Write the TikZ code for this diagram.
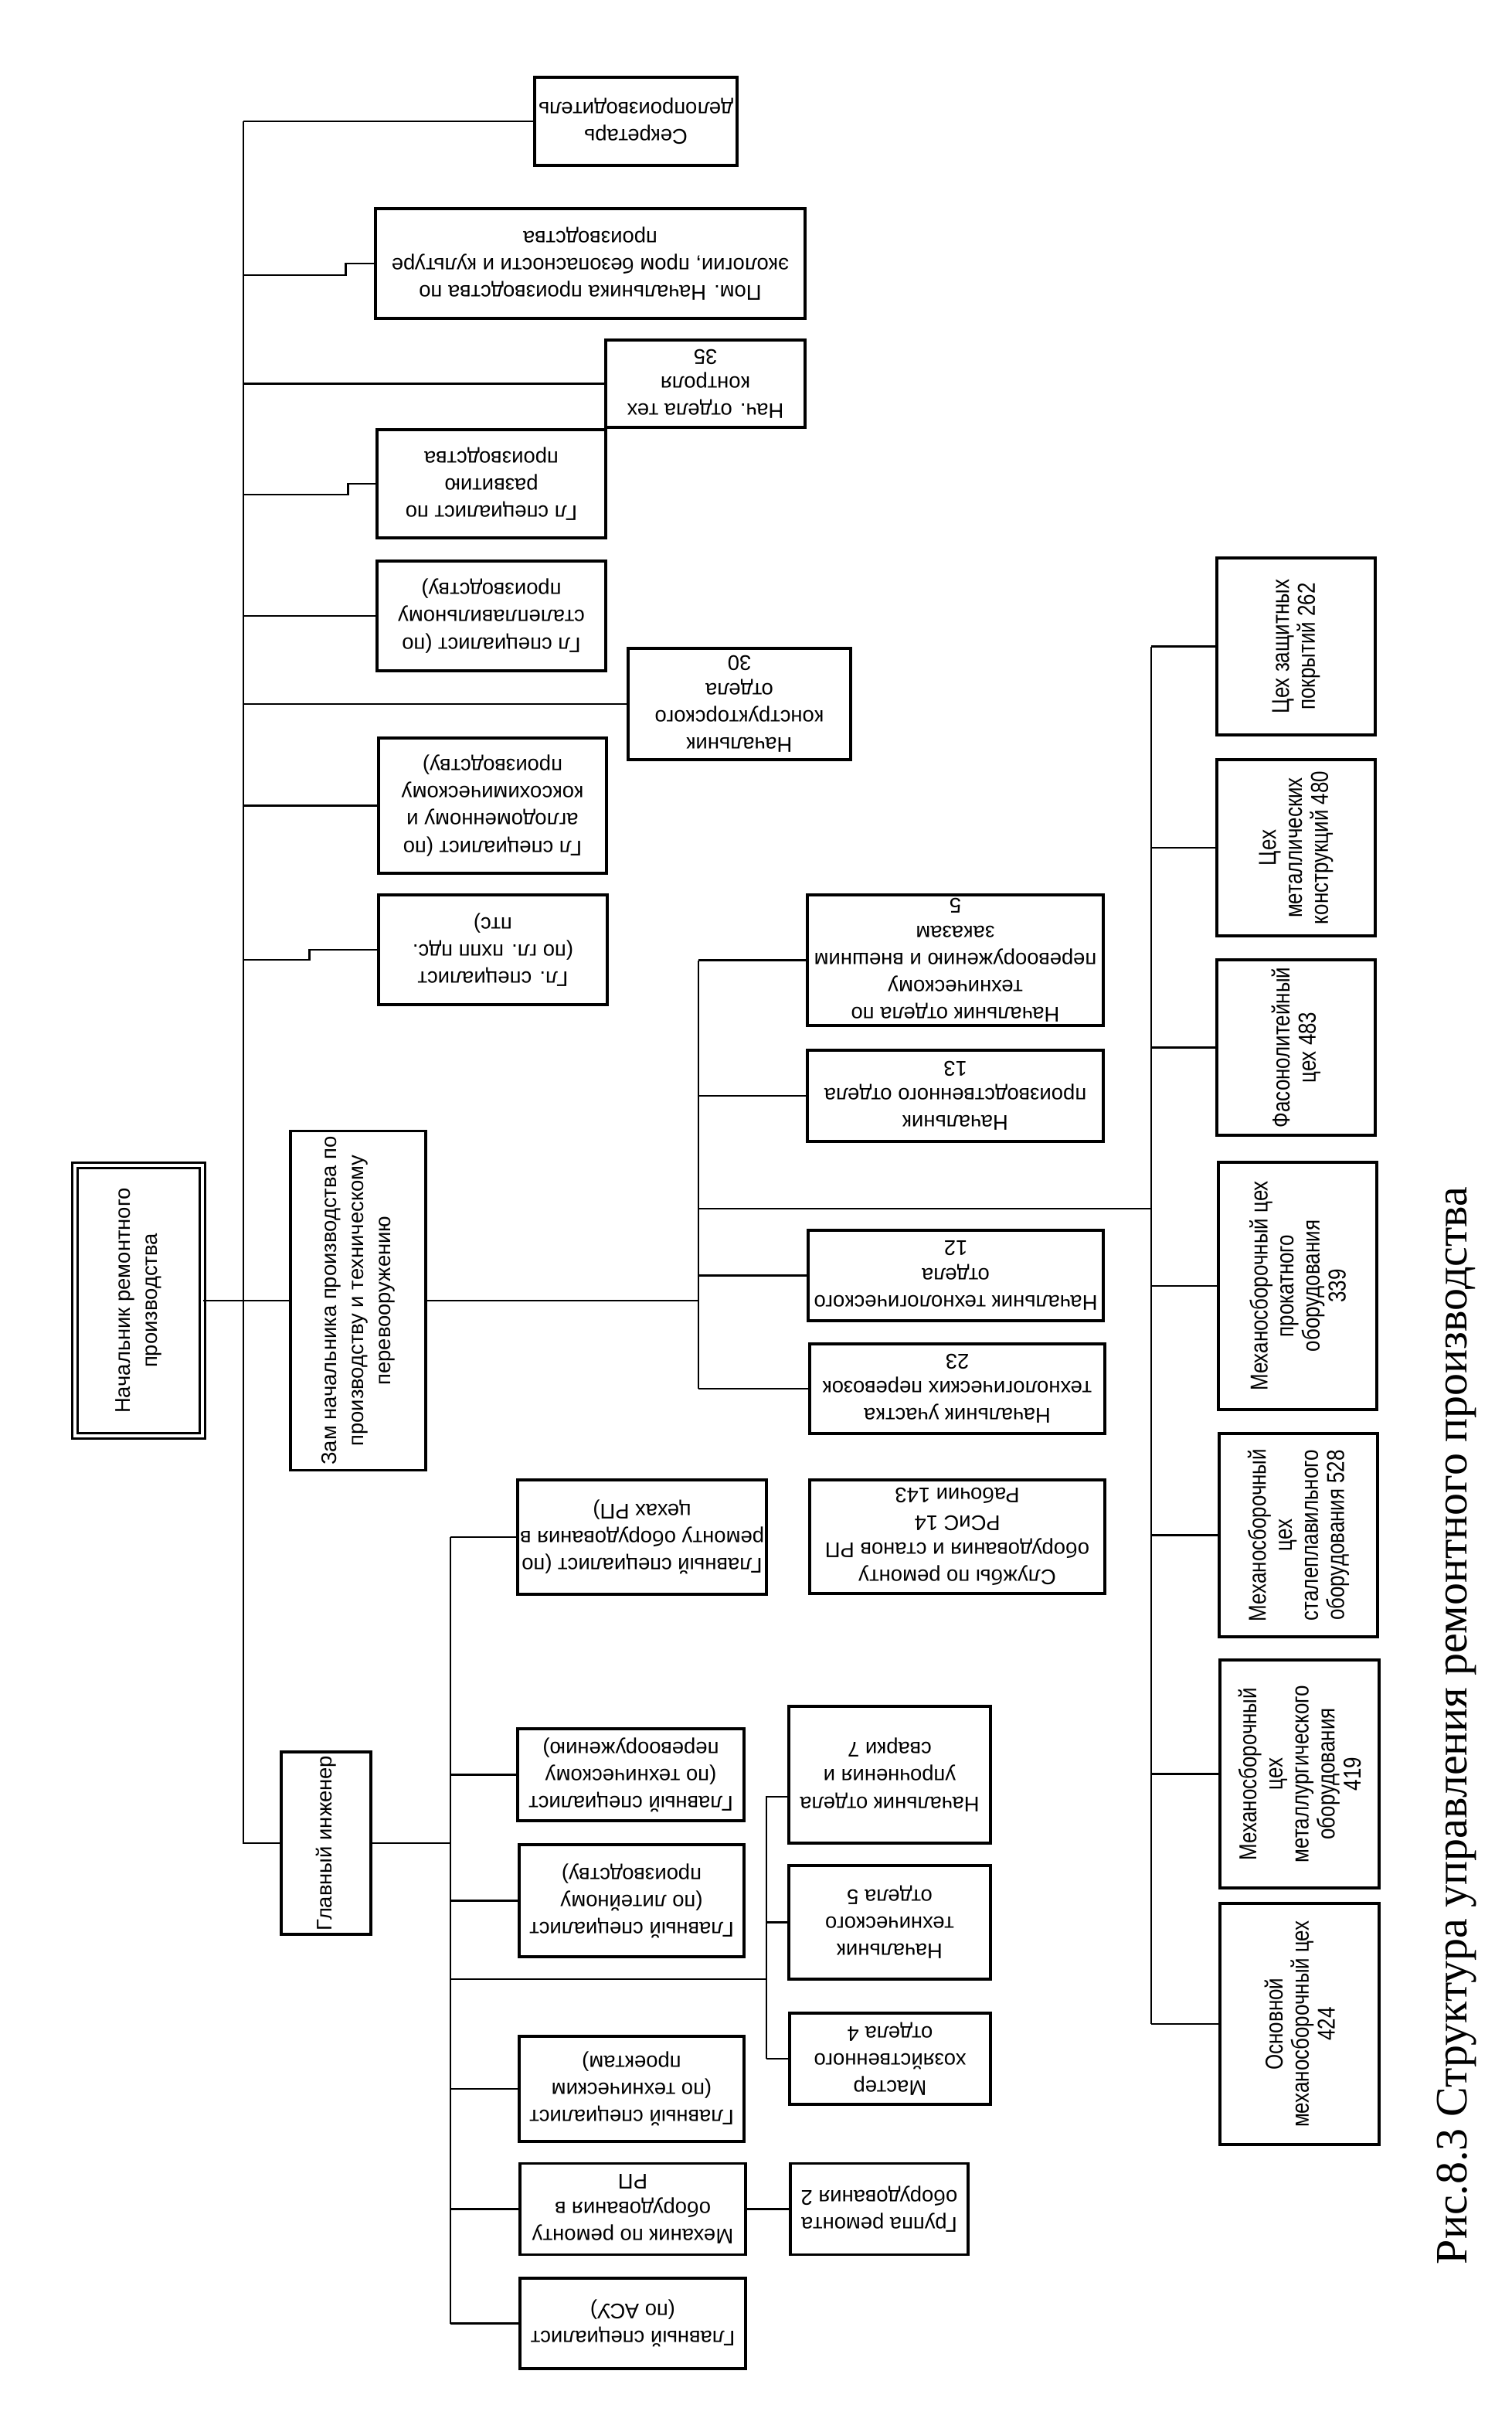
\documentclass[tikz,border=0pt]{standalone}
\usepackage{fontspec}
\setmainfont{Liberation Sans}
\newfontfamily\narrowfont[FakeStretch=0.82]{Liberation Sans}
\newfontfamily\capfont{Liberation Serif}
\begin{document}
\begin{tikzpicture}[line width=0.7pt,
    box/.style={draw, rectangle, align=center, inner sep=0.5pt, line width=0.9pt,
      font=\fontsize{7.8}{10}\selectfont},
    upbox/.style={box, rotate=180},
    sidebox/.style={box, rotate=90},
    shopbox/.style={box, rotate=90, line width=1pt,
      font=\narrowfont\fontsize{9}{9.6}\selectfont}]
    \useasboundingbox[fill=white] (0,0) rectangle (19.56,-31.47);

    % buses
    \coordinate (trunk) at (3.15,0);
    \coordinate (zbus) at (9.04,0);
    \coordinate (sbus) at (14.90,0);
    \coordinate (gbus) at (5.83,0);
    \coordinate (pbus) at (9.92,0);

    % head and deputies
    \node[sidebox, double, double distance=1.2pt, line width=0.7pt, minimum width=3.5cm, minimum height=1.65cm] (nach) at (1.795,-16.83) {Начальник ремонтного\\производства};
    \node[sidebox, minimum width=4.39cm, minimum height=1.75cm] (zam) at (4.635,-16.83) {Зам начальника производства по\\производству и техническому\\перевооружению};
    \node[sidebox, minimum width=2.36cm, minimum height=1.16cm] (gi) at (4.22,-23.85) {Главный инженер};

    % staff of the head
    \node[upbox, minimum width=2.62cm, minimum height=1.14cm] (sekr) at (8.23,-1.57) {Секретарь\\делопроизводитель};
    \node[upbox, minimum width=5.56cm, minimum height=1.42cm] (pom) at (7.64,-3.41) {Пом. Начальника производства по\\экологии, пром безопасности и культуре\\производства};
    \node[upbox, minimum width=2.58cm, minimum height=1.13cm] (ntk) at (9.13,-4.965) {Нач. отдела тех\\контроля\\35};
    \node[upbox, minimum width=2.96cm, minimum height=1.40cm] (razv) at (6.36,-6.26) {Гл специалист по\\развитию\\производства};
    \node[upbox, minimum width=2.96cm, minimum height=1.42cm] (stal) at (6.36,-7.97) {Гл специалист (по\\сталеплавильному\\производству)};
    \node[upbox, minimum width=2.88cm, minimum height=1.44cm] (konstr) at (9.57,-9.11) {Начальник\\конструкторского\\отдела\\30};
    \node[upbox, minimum width=2.95cm, minimum height=1.75cm] (aglo) at (6.375,-10.425) {Гл специалист (по\\аглодоменному и\\коксохимическому\\производству)};
    \node[upbox, minimum width=2.96cm, minimum height=1.42cm] (ptc) at (6.38,-12.29) {Гл. специалист\\(по гл. пхпп пдс.\\птс)};

    % departments of the deputy
    \node[upbox, minimum width=3.83cm, minimum height=1.69cm] (vneshn) at (12.365,-12.425) {Начальник отдела по\\техническому\\перевооружению и внешним\\заказам\\5};
    \node[upbox, minimum width=3.83cm, minimum height=1.18cm] (proizv) at (12.365,-14.18) {Начальник\\производственного отдела\\13};
    \node[upbox, minimum width=3.82cm, minimum height=1.17cm] (tehnol) at (12.37,-16.505) {Начальник технологического\\отдела\\12};
    \node[upbox, minimum width=3.82cm, minimum height=1.16cm] (perevoz) at (12.39,-17.97) {Начальник участка\\технологических перевозок\\23};
    \node[upbox, minimum width=3.82cm, minimum height=1.47cm] (sluzhby) at (12.39,-19.885) {Службы по ремонту\\оборудования и станов РП\\РСиС 14\\Рабочии 143};

    % shops
    \node[shopbox, minimum width=2.29cm, minimum height=2.05cm] (ceh262) at (16.775,-8.365) {Цех защитных\\покрытий 262};
    \node[shopbox, minimum width=2.28cm, minimum height=2.05cm] (ceh480) at (16.775,-10.97) {Цех\\металлических\\конструкций 480};
    \node[shopbox, minimum width=2.27cm, minimum height=2.05cm] (ceh483) at (16.775,-13.555) {Фасонолитейный\\цех 483};
    \node[shopbox, minimum width=3.20cm, minimum height=2.05cm] (ceh339) at (16.795,-16.64) {Механосборочный цех\\прокатного\\оборудования\\339};
    \node[shopbox, minimum width=2.63cm, minimum height=2.05cm] (ceh528) at (16.805,-19.865) {Механосборочный\\цех\\сталеплавильного\\оборудования 528};
    \node[shopbox, minimum width=2.95cm, minimum height=2.06cm] (ceh419) at (16.82,-22.955) {Механосборочный\\цех\\металлургического\\оборудования\\419};
    \node[shopbox, minimum width=3.12cm, minimum height=2.06cm] (ceh424) at (16.82,-26.19) {Основной\\механосборочный цех\\424};

    % chief engineer's specialists
    \node[upbox, minimum width=3.22cm, minimum height=1.48cm] (gsrem) at (8.31,-19.89) {Главный специалист (по\\ремонту оборудования в\\цехах РП)};
    \node[upbox, minimum width=2.93cm, minimum height=1.19cm] (gsper) at (8.165,-22.965) {Главный специалист\\(по техническому\\перевооружению)};
    \node[upbox, minimum width=2.91cm, minimum height=1.45cm] (gslit) at (8.175,-24.595) {Главный специалист\\(по литейному\\производству)};
    \node[upbox, minimum width=2.91cm, minimum height=1.36cm] (gsproekt) at (8.175,-27.03) {Главный специалист\\(по техническим\\проектам)};
    \node[upbox, minimum width=2.92cm, minimum height=1.18cm] (mehanik) at (8.19,-28.585) {Механик по ремонту\\оборудования в\\РП};
    \node[upbox, minimum width=2.92cm, minimum height=1.17cm] (gsasu) at (8.19,-30.065) {Главный специалист\\(по АСУ)};
    \node[upbox, minimum width=2.61cm, minimum height=1.77cm] (uproch) at (11.515,-22.965) {Начальник отдела\\упрочнения и\\сварки 7};
    \node[upbox, minimum width=2.61cm, minimum height=1.47cm] (tehotd) at (11.515,-24.875) {Начальник\\технического\\отдела 5};
    \node[upbox, minimum width=2.60cm, minimum height=1.18cm] (master) at (11.52,-26.64) {Мастер\\хозяйственного\\отдела 4};
    \node[upbox, minimum width=2.30cm, minimum height=1.18cm] (gruppa) at (11.38,-28.585) {Группа ремонта\\оборудования 2};

    % caption
    \node[rotate=90, font=\capfont\fontsize{16.5}{18}\selectfont] (cap) at (18.85,-22.33) {Рис.8.3 Структура управления ремонтного производства};

    % trunk of the head
    \draw (sekr.east -| trunk) -- (gi.north -| trunk) -- (gi.north);
    \draw (nach.south) -- (zam.north);
    \foreach \b in {sekr, ntk, stal, konstr, aglo}
        \draw (\b.east) -- (\b.east -| trunk);
    \draw (pom.east) -- ++(-0.37,0) -- ++(0,-0.15) coordinate (pomj) -- (pomj -| trunk);
    \draw (razv.east) -- ++(-0.36,0) -- ++(0,-0.14) coordinate (razvj) -- (razvj -| trunk);
    \draw (ptc.east) -- ++(-0.88,0) -- ++(0,-0.13) coordinate (ptcj) -- (ptcj -| trunk);

    % deputy's bus
    \draw (zam.south) -- (zam.south -| zbus);
    \draw (vneshn.east -| zbus) -- (perevoz.east -| zbus);
    \foreach \b in {vneshn, proizv, tehnol, perevoz}
        \draw (\b.east) -- (\b.east -| zbus);
    \coordinate (zs) at (9.04,-15.64);
    \draw (zs) -- (zs -| sbus);

    % shops bus
    \draw (ceh262.north -| sbus) -- (ceh424.north -| sbus);
    \foreach \b in {ceh262, ceh480, ceh483, ceh339, ceh528, ceh419, ceh424}
        \draw (\b.north) -- (\b.north -| sbus);

    % chief engineer's bus
    \draw (gi.south) -- (gi.south -| gbus);
    \draw (gsrem.east -| gbus) -- (gsasu.east -| gbus);
    \foreach \b in {gsrem, gsper, gslit, gsproekt, mehanik, gsasu}
        \draw (\b.east) -- (\b.east -| gbus);
    \coordinate (gp) at (5.83,-25.61);
    \draw (gp) -- (gp -| pbus);
    \draw ([yshift=-2.85mm]uproch.east) coordinate (up1) -- (up1 -| pbus) -- (master.east -| pbus);
    \draw (tehotd.east) -- (tehotd.east -| pbus);
    \draw (master.east) -- (master.east -| pbus);
    \draw (mehanik.west) -- (gruppa.east);
\end{tikzpicture}
\end{document}
